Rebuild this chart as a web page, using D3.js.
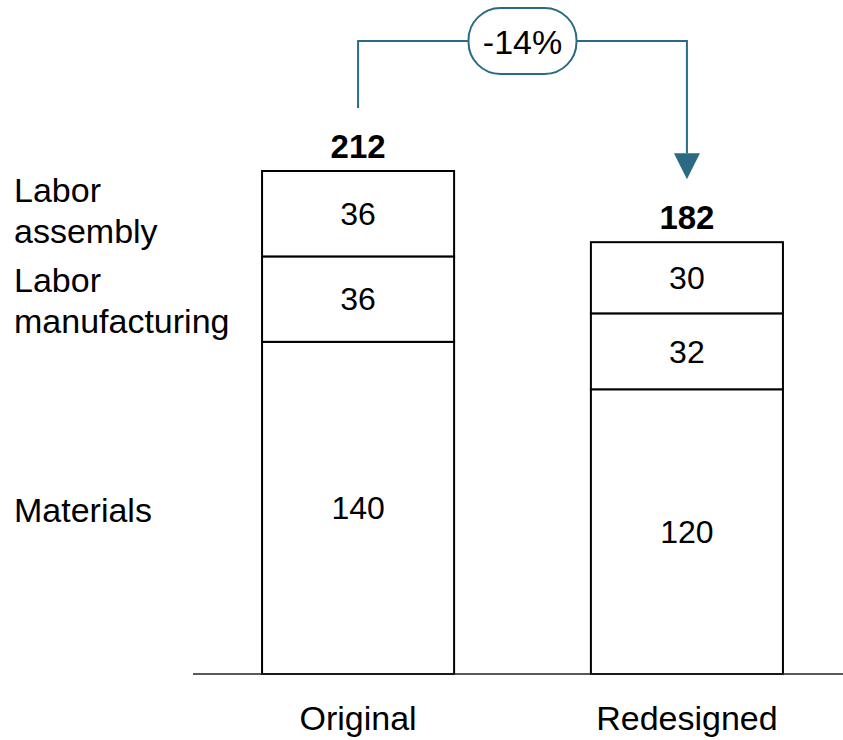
<!DOCTYPE html>
<html>
<head>
<meta charset="utf-8">
<script src="https://cdn.jsdelivr.net/npm/d3@7"></script>
<style>
  html, body { margin: 0; padding: 0; background: #fff; }
  svg { display: block; font-family: "Liberation Sans", Arial, sans-serif; }
</style>
</head>
<body>
<svg id="chart" width="843" height="740"></svg>
<script>
// Cost breakdown per design (bottom to top)
const designs = ["Original", "Redesigned"];
const components = ["Materials", "Labor manufacturing", "Labor assembly"];
const componentLabels = [["Materials"], ["Labor", "manufacturing"], ["Labor", "assembly"]];
const materials = [140, 120];
const laborManufacturing = [36, 32];
const laborAssembly = [36, 30];
const changeLabel = "-14%";

const seriesValues = [materials, laborManufacturing, laborAssembly];
const rows = designs.map((d, i) => {
  const r = { design: d };
  components.forEach((c, j) => r[c] = seriesValues[j][i]);
  return r;
});
const totals = rows.map(r => components.reduce((s, c) => s + r[c], 0));

const svg = d3.select("#chart");
const accent = "#2b6a82";

const x = d3.scaleBand()
  .domain(designs)
  .range([193, 852])
  .paddingInner(0.416)
  .paddingOuter(0.21);

const y = d3.scaleLinear()
  .domain([0, 212])
  .range([674, 171]);

const stack = d3.stack().keys(components);
const layers = stack(rows);

// Stacked segments
const layerG = svg.append("g")
  .selectAll("g")
  .data(layers)
  .join("g");

layerG.selectAll("rect")
  .data(d => d.map(p => ({ p, key: d.key })))
  .join("rect")
  .attr("x", d => x(d.p.data.design))
  .attr("y", d => y(d.p[1]))
  .attr("width", x.bandwidth())
  .attr("height", d => y(d.p[0]) - y(d.p[1]))
  .attr("fill", "#fff")
  .attr("stroke", "#000")
  .attr("stroke-width", 2);

// Segment value labels
layerG.selectAll("text")
  .data(d => d.map(p => ({ p, key: d.key })))
  .join("text")
  .attr("x", d => x(d.p.data.design) + x.bandwidth() / 2)
  .attr("y", d => (y(d.p[0]) + y(d.p[1])) / 2)
  .attr("dy", "0.35em")
  .attr("text-anchor", "middle")
  .attr("font-size", 32)
  .attr("fill", "#000")
  .text(d => d.p[1] - d.p[0]);

// Totals above bars
svg.append("g")
  .selectAll("text")
  .data(designs)
  .join("text")
  .attr("x", d => x(d) + x.bandwidth() / 2)
  .attr("y", (d, i) => y(totals[i]) - 13)
  .attr("text-anchor", "middle")
  .attr("font-size", 33)
  .attr("font-weight", "bold")
  .text((d, i) => totals[i]);

// Baseline
svg.append("line")
  .attr("x1", 193).attr("x2", 843)
  .attr("y1", y(0)).attr("y2", y(0))
  .attr("stroke", "#222")
  .attr("stroke-width", 1.5);

// Category labels
svg.append("g")
  .selectAll("text")
  .data(designs)
  .join("text")
  .attr("x", d => x(d) + x.bandwidth() / 2)
  .attr("y", y(0) + 56)
  .attr("text-anchor", "middle")
  .attr("font-size", 34)
  .text(d => d);

// Component labels on the left, aligned with the first bar's segments
const firstLayerMids = layers.map(l => (y(l[0][0]) + y(l[0][1])) / 2);
const labelOffsets = [14.5, 13.5, 8.5];
const lineH = 41;
const compG = svg.append("g")
  .selectAll("text")
  .data(componentLabels)
  .join("text")
  .attr("x", 14)
  .attr("font-size", 34)
  .attr("fill", "#000");
compG.each(function(lines, j) {
  const t = d3.select(this);
  const first = firstLayerMids[j] + labelOffsets[j] - (lines.length - 1) * lineH / 2;
  lines.forEach((ln, k) => {
    t.append("tspan")
      .attr("x", 14)
      .attr("y", first + k * lineH)
      .text(ln);
  });
});

// Change connector between bar totals
const cx1 = x(designs[0]) + x.bandwidth() / 2;
const cx2 = x(designs[1]) + x.bandwidth() / 2;
const topY = 41;
const startY = y(totals[0]) - 63;
const tipY = y(totals[1]) - 63;
const headH = 26, headW = 26;

svg.append("path")
  .attr("d", `M${cx1},${startY} V${topY} H${cx2} V${tipY - headH}`)
  .attr("fill", "none")
  .attr("stroke", accent)
  .attr("stroke-width", 2);

svg.append("path")
  .attr("d", `M${cx2 - headW / 2},${tipY - headH} L${cx2 + headW / 2},${tipY - headH} L${cx2},${tipY} Z`)
  .attr("fill", accent);

const pillW = 108, pillH = 66;
const pillCx = (cx1 + cx2) / 2;
svg.append("rect")
  .attr("x", pillCx - pillW / 2)
  .attr("y", topY - pillH / 2)
  .attr("width", pillW)
  .attr("height", pillH)
  .attr("rx", 32)
  .attr("ry", 32)
  .attr("fill", "#fff")
  .attr("stroke", accent)
  .attr("stroke-width", 2);

svg.append("text")
  .attr("x", pillCx)
  .attr("y", topY + 13)
  .attr("text-anchor", "middle")
  .attr("font-size", 34)
  .text(changeLabel);
</script>
</body>
</html>
